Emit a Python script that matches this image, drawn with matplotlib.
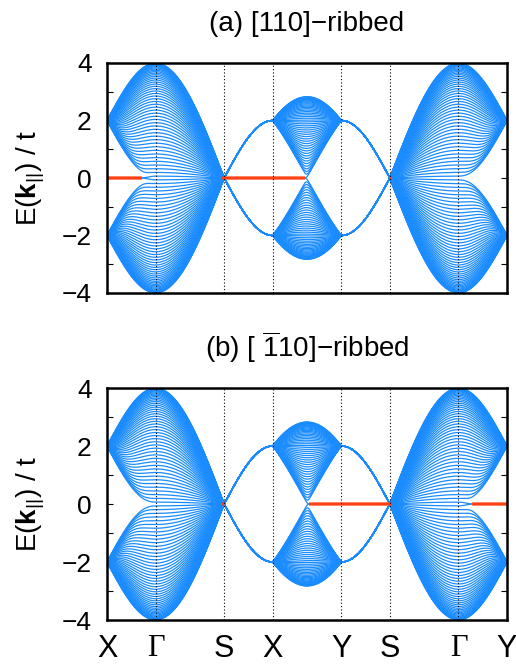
import numpy as np
import matplotlib
matplotlib.use("Agg")
import matplotlib.pyplot as plt

plt.rcParams["font.family"] = ["Liberation Sans", "DejaVu Sans"]
plt.rcParams["mathtext.fontset"] = "custom"
plt.rcParams["mathtext.rm"] = "Liberation Sans"
plt.rcParams["mathtext.bf"] = "Liberation Sans:bold"
plt.rcParams["mathtext.it"] = "Liberation Sans:italic"

# High-symmetry path through the surface Brillouin zone (coordinates in units of pi)
path_labels = ["X", "Γ", "S", "X", "Y", "S", "Γ", "Y"]
path_points = [(1, 0), (0, 0), (1, 1), (1, 0), (0, 1), (1, 1), (0, 0), (0, 1)]

# Slab model: alternating intra/inter-layer bonds t(1+e^{ik})
hopping_t = 1.0
n_cells = 48
zero_tol = 3e-3

panel_titles = ["(a) [110]−ribbed", "(b) [ $\\overline{\\mathrm{1}}$10]−ribbed"]
intercell_axis = ["ky", "kx"]   # momentum carried by the inter-layer bond

y_ticks = [-4, -3, -2, -1, 0, 1, 2, 3, 4]
y_ticklabels = ["−4", "", "−2", "", "0", "", "2", "", "4"]

band_color = "#1a8cff"
edge_color = "#ff4010"


def build_path(points, per_pi=220):
    xs, kxs, kys = [], [], []
    dist = 0.0
    ticks = [0.0]
    for a, b in zip(points[:-1], points[1:]):
        a = np.array(a, float) * np.pi
        b = np.array(b, float) * np.pi
        length = np.linalg.norm(b - a)
        n = int(per_pi * length / np.pi) + 1
        s = np.linspace(0.0, 1.0, n)
        seg = a[None, :] + s[:, None] * (b - a)[None, :]
        xs.append(dist + s * length)
        kxs.append(seg[:, 0])
        kys.append(seg[:, 1])
        dist += length
        ticks.append(dist)
    return np.concatenate(xs), np.concatenate(kxs), np.concatenate(kys), ticks


def slab_bands(kx, ky, inter):
    cx = 2 * hopping_t * np.abs(np.cos(kx / 2))
    cy = 2 * hopping_t * np.abs(np.cos(ky / 2))
    v, w = (cx, cy) if inter == "ky" else (cy, cx)
    m = 2 * n_cells
    idx = np.arange(m - 1)
    out = np.empty((kx.size, m))
    chunk = 200
    for i0 in range(0, kx.size, chunk):
        sl = slice(i0, i0 + chunk)
        nk = v[sl].size
        hop = np.where(idx[None, :] % 2 == 0, v[sl][:, None], w[sl][:, None])
        H = np.zeros((nk, m, m))
        H[:, idx, idx + 1] = hop
        H[:, idx + 1, idx] = hop
        out[sl] = np.linalg.eigvalsh(H)
    return out


x, kx, ky, ticks = build_path(path_points)

fig = plt.figure(figsize=(5.16, 6.64), dpi=100)
axes_rects = [
    [107 / 516, 371 / 664, 400 / 516, 230 / 664],
    [107 / 516, 44 / 664, 400 / 516, 232 / 664],
]
title_y = [1 - 24 / 664, 1 - 347 / 664]

for rect, title, inter, ty in zip(axes_rects, panel_titles, intercell_axis, title_y):
    ax = fig.add_axes(rect)
    E = slab_bands(kx, ky, inter)
    ax.plot(x, E, color=band_color, lw=0.9, zorder=2)

    mid = E[:, n_cells - 1:n_cells + 1]
    zero_modes = np.where(np.abs(mid) < zero_tol, mid, np.nan)
    ax.plot(x, zero_modes, color=edge_color, lw=2.0, zorder=3,
            solid_capstyle="butt")

    for tx in ticks[1:-1]:
        ax.axvline(tx, color="black", lw=0.8, ls=(0, (1, 2)), zorder=4)

    ax.set_xlim(ticks[0], ticks[-1])
    ax.set_ylim(-4, 4)
    ax.set_yticks(y_ticks)
    ax.set_yticklabels(y_ticklabels)
    ax.tick_params(axis="y", direction="in", length=4, width=0.8,
                   right=True, labelsize=19, pad=11)
    ax.set_xticks(ticks)
    ax.set_xticklabels(path_labels)
    ax.tick_params(axis="x", length=0, labelsize=22, pad=10)
    for lab in ax.get_xticklabels():
        if lab.get_text() == "Γ":
            lab.set_fontfamily(["Liberation Serif", "DejaVu Serif"])
    for sp in ax.spines.values():
        sp.set_linewidth(1.8)
        sp.set_zorder(5)

    ax.set_ylabel(r"E($\mathbf{k}_{\mathrm{||}}$) / t", fontsize=20)
    ax.yaxis.set_label_coords(-0.15, 0.5)

    fig.text(rect[0] + rect[2] / 2, ty, title, ha="center", va="center",
             fontsize=20)

# x labels only on the lower panel
fig.axes[0].set_xticklabels([])

fig.savefig("out.png", dpi=100)
